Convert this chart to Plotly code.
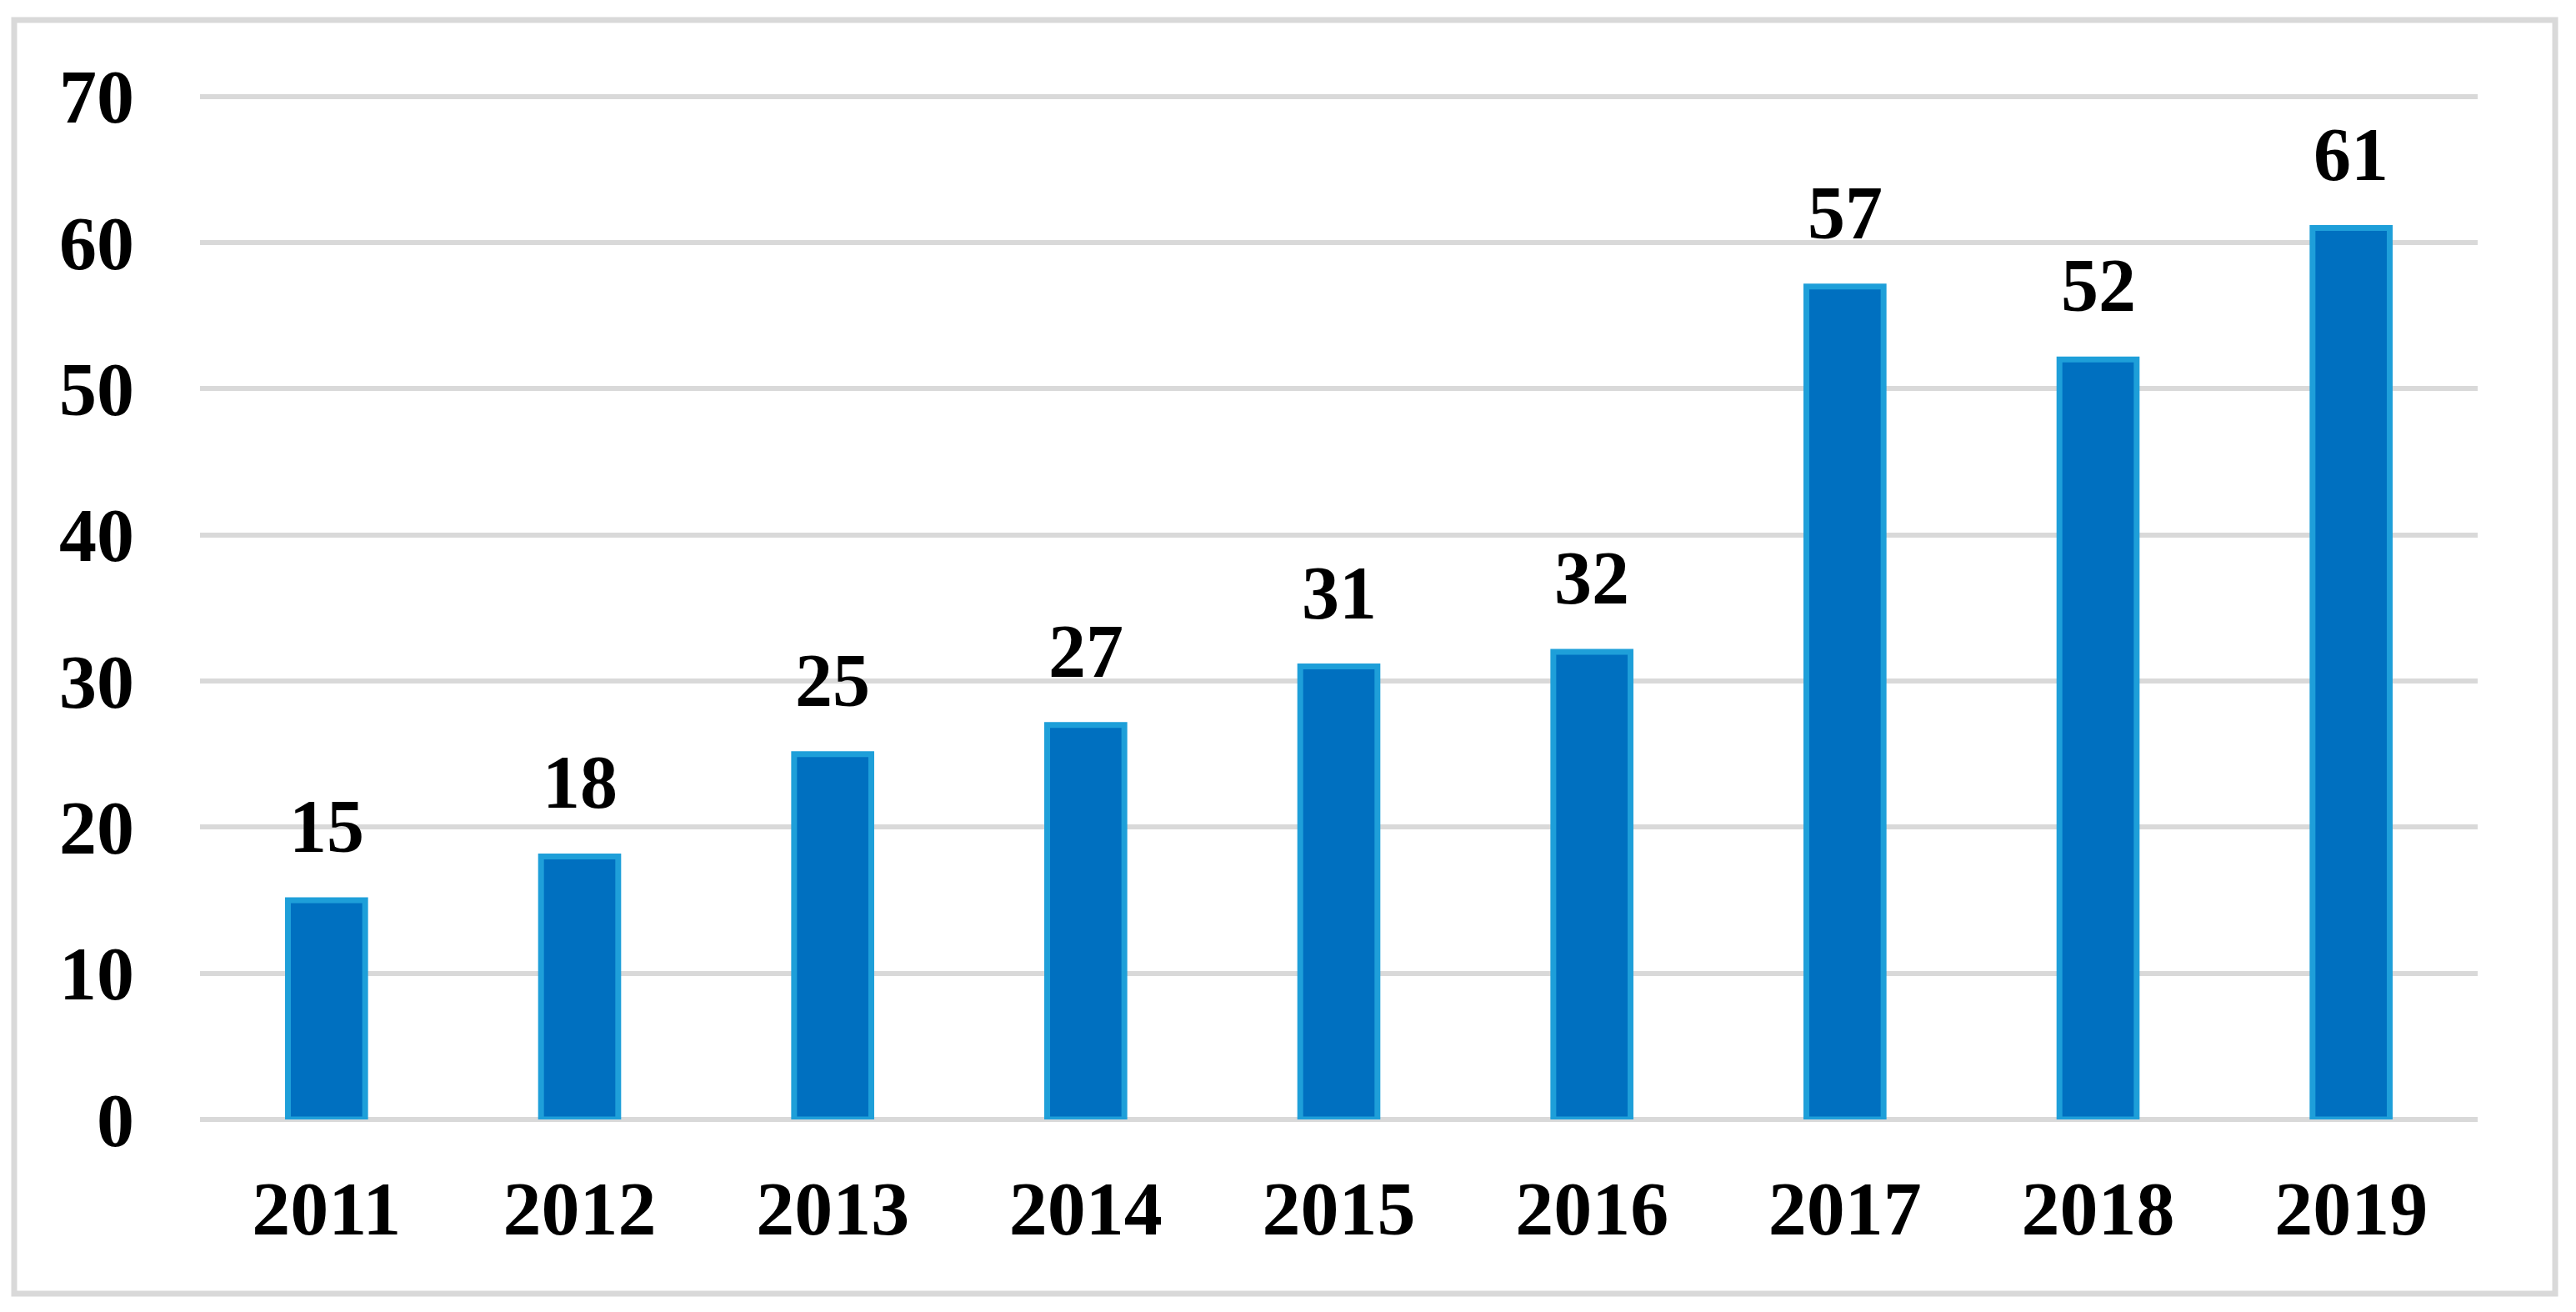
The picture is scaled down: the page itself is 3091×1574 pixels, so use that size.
import plotly.graph_objects as go

years = ["2011", "2012", "2013", "2014", "2015", "2016", "2017", "2018", "2019"]
values = [15, 18, 25, 27, 31, 32, 57, 52, 61]
y_ticks = [0, 10, 20, 30, 40, 50, 60, 70]

W, H = 3091, 1574
OFF = 8  # page body margin
L, R, T, B = 240 - OFF, 118 + OFF, 114 - OFF, 231 + OFF
pw, ph = W - L - R, H - T - B

FONT = "Liberation Serif"
GRID = "#d9d9d9"

xpos = list(range(len(years)))

fig = go.Figure()
fig.add_trace(go.Bar(
    x=xpos, y=values, width=0.305,
    marker=dict(color="#0070C0", line=dict(color="#1E9FD9", width=7)),
    hoverinfo="skip",
))

for xi, v in zip(xpos, values):
    fig.add_annotation(
        x=xi, y=v, xref="x", yref="y", text=str(v), showarrow=False,
        yanchor="bottom", yshift=37,
        font=dict(family=FONT, size=90, color="black", weight="bold"),
    )

def px_x(p):
    return (p - OFF - L) / pw

def px_y(p):
    return (H - B - (p - OFF)) / ph

fig.add_shape(
    type="rect", xref="paper", yref="paper",
    x0=px_x(17), x1=px_x(3066), y0=px_y(1552), y1=px_y(24),
    line=dict(color=GRID, width=7), fillcolor="rgba(0,0,0,0)", layer="below",
)

fig.update_layout(
    width=W, height=H, autosize=False,
    margin=dict(l=L, r=R, t=T, b=B, pad=0),
    paper_bgcolor="white", plot_bgcolor="white",
    showlegend=False,
    font=dict(family=FONT, color="black"),
)
fig.update_xaxes(
    range=[-0.5, len(years) - 0.5], tickvals=xpos, ticktext=years,
    showgrid=False, showline=False, zeroline=False,
    ticks="", tickfont=dict(family=FONT, size=92, color="black", weight="bold"),
    ticklabelstandoff=45,
)
fig.update_yaxes(
    range=[0, 70.1], tickvals=y_ticks,
    showgrid=True, gridcolor=GRID, gridwidth=6,
    zeroline=True, zerolinecolor=GRID, zerolinewidth=6,
    showline=False, ticks="",
    tickfont=dict(family=FONT, size=90, color="black", weight="bold"),
    ticklabelstandoff=78,
)

fig.write_html("out.html")
